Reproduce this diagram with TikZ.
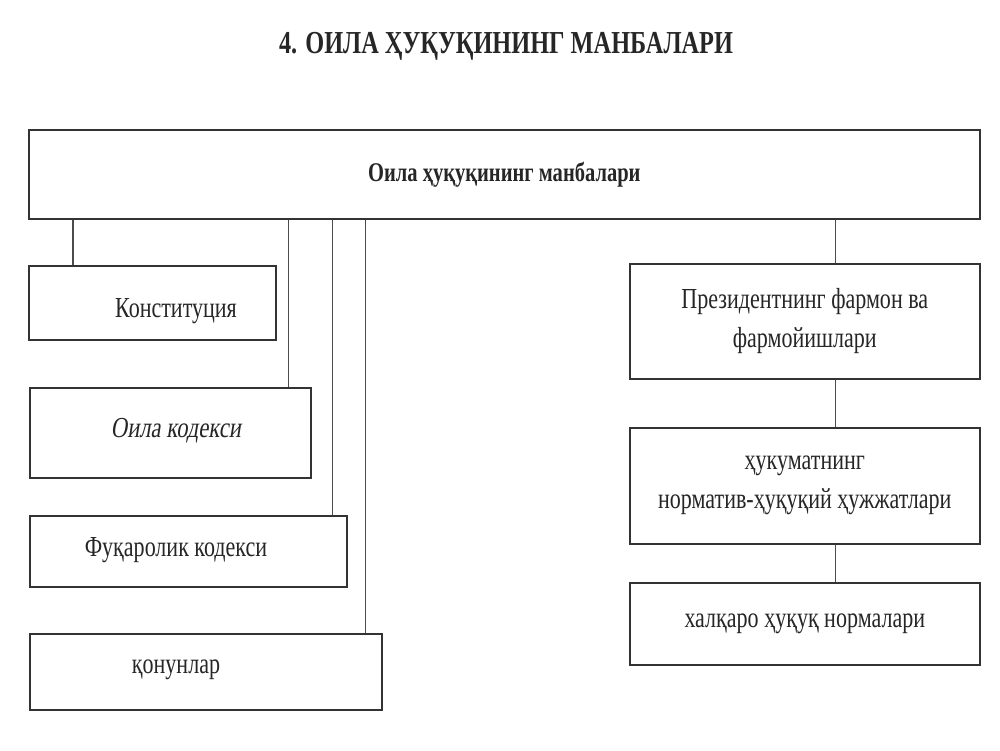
\documentclass[tikz,border=0pt]{standalone}
\usepackage{fontspec}
\setmainfont{Liberation Serif}[FakeStretch=0.76]
\newfontfamily\slantfont{Liberation Serif}[FakeStretch=0.78, FakeSlant=0.16]

\tikzset{
  box/.style={draw=black!80, line width=1.6pt, inner sep=0pt, anchor=north west,
              text=black!85, align=center, font=\fontsize{29}{39}\selectfont},
  link/.style={draw=black!70, line width=1.1pt},
  lbl/.style={text=black!85, font=\fontsize{29}{37}\selectfont},
}

\begin{document}
\begin{tikzpicture}[x=1pt, y=-1pt]
    \useasboundingbox[fill=white] (0,0) rectangle (1000,750);

    \node[lbl, font=\bfseries\fontsize{32}{38}\selectfont] (title) at (506,46)
	{4. ОИЛА ҲУҚУҚИНИНГ МАНБАЛАРИ};

    % main box
    \node[box, minimum width=951pt, minimum height=89pt,
	font=\bfseries\fontsize{27}{37}\selectfont] (main) at (28,129)
	{Оила ҳуқуқининг манбалари};

    % left column
    \node[box, minimum width=247pt, minimum height=74pt] (konst) at (28,265) {};
    \node[box, minimum width=281pt, minimum height=90pt] (oila) at (29,387) {};
    \node[box, minimum width=317pt, minimum height=71pt] (fuqaro) at (29,515) {};
    \node[box, minimum width=352pt, minimum height=76pt] (qonun) at (29,633) {};

    \node[lbl] (konstT) at (176,311) {Конституция};
    \node[lbl, font=\slantfont\fontsize{29}{37}\selectfont] (oilaT) at (176,431) {Оила кодекси};
    \node[lbl] (fuqaroT) at (176,550) {Фуқаролик кодекси};
    \node[lbl] (qonunT) at (176,670) {қонунлар};

    % right column
    \node[box, minimum width=350pt, minimum height=115pt] (pres) at (629,263)
	{Президентнинг фармон ва\\фармойишлари};
    \node[box, minimum width=350pt, minimum height=116pt] (hukumat) at (629,427)
	{ҳукуматнинг\\норматив-ҳуқуқий ҳужжатлари};
    \node[box, minimum width=350pt, minimum height=82pt] (xalqaro) at (629,582)
	{халқаро ҳуқуқ нормалари};

    % connectors
    \path ([xshift=45pt]konst.north west) coordinate (tkonst);
    \draw[link] (tkonst) -- (tkonst |- main.south);
    \foreach \n/\dx in {oila/-23, fuqaro/-15, qonun/-17}{
	\path ([xshift=\dx pt]\n.north east) coordinate (t\n);
	\draw[link] (t\n) -- (t\n |- main.south);
    }

    \path ([xshift=31pt]pres.north) coordinate (tpres);
    \draw[link] (tpres) -- (tpres |- main.south);
    \draw[link] (tpres |- pres.south) -- (tpres |- hukumat.north);
    \draw[link] (tpres |- hukumat.south) -- (tpres |- xalqaro.north);
\end{tikzpicture}
\end{document}
